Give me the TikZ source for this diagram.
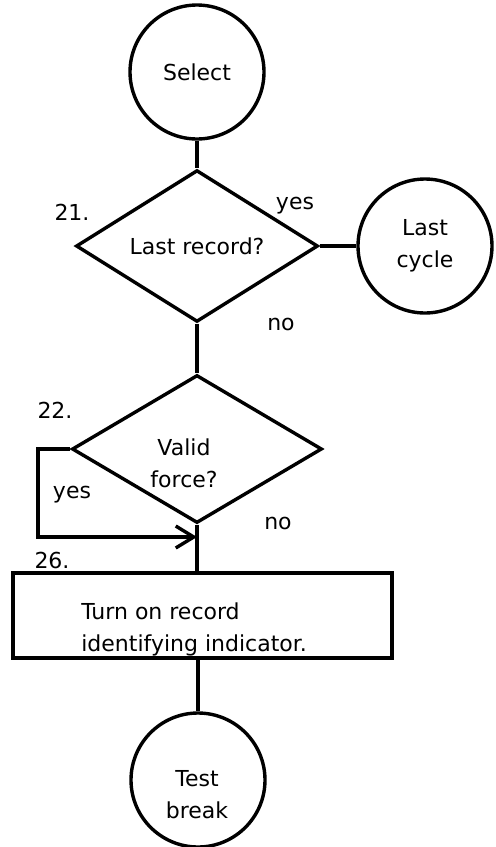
\documentclass[tikz,border=0pt]{standalone}
\usepackage{fontspec}
\setmainfont{DejaVu Sans}
\usetikzlibrary{shapes.geometric,arrows.meta}
\tikzset{
  term/.style={circle,draw,minimum size=67pt,inner sep=0pt,align=center},
  decision/.style={diamond,draw,inner sep=0pt},
  procbox/.style={rectangle,draw,minimum width=189.5pt,minimum height=42.5pt},
  flowarrow/.style={-{Straight Barb[length=9pt,width=11pt]}},
}
\begin{document}
\begin{tikzpicture}[x=0.5pt,y=-0.5pt,line width=1.7pt,
    font=\fontsize{11pt}{16pt}\selectfont]
    \useasboundingbox (0,0) rectangle (495,847);

    \node[term] (sel) at (197,72) {Select};
    \node[decision,minimum width=121pt,minimum height=72pt] (d21) at (197,246) {Last record?};
    \node[term] (lc) at (425,246) {Last\\cycle};
    \node[decision,minimum width=125pt,minimum height=74pt] (d22) at (197,449) {};
    \node[align=center] (d22txt) at (184,463) {Valid\\force?};
    \node[procbox] (box) at (202.5,615.5) {};
    \node[anchor=west,align=left] (boxtxt) at (73,629) {Turn on record\\identifying indicator.};
    \node[term] (tb) at (198,780) {};
    \node[align=center] (tbtxt) at (197,795) {Test\\break};

    \node (n21) at (72,212) {21.};
    \node (yes21) at (295,206) {yes};
    \node (no21) at (281,324) {no};
    \node (n22) at (55,410) {22.};
    \node (yes22) at (72,495) {yes};
    \node (no22) at (278,523) {no};
    \node (n26) at (52,560) {26.};

    \coordinate (yesbend) at (38,537);
    \coordinate (yestip) at (197,537);

    \draw (sel) -- (d21);
    \draw (d21) -- (lc);
    \draw (d21) -- (d22);
    \draw[flowarrow] (d22.west) -| (yesbend) -- (yestip);
    \draw (d22.south) -- (d22.south |- box.north);
    \draw (box.south -| tb.north) -- (tb.north);
  \end{tikzpicture}
\end{document}
